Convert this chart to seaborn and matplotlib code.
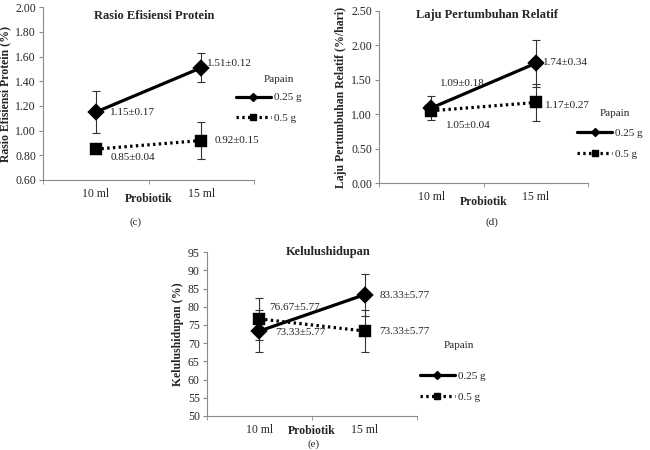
import matplotlib.pyplot as plt
import seaborn as sns
import pandas as pd
from matplotlib.lines import Line2D

# data
probiotik = ["10 ml", "15 ml"]
papain = ["0.25 g", "0.5 g"]

rep_025 = [1.15, 1.51]
rep_025_sd = [0.17, 0.12]
rep_05 = [0.85, 0.92]
rep_05_sd = [0.04, 0.15]

lpr_025 = [1.09, 1.74]
lpr_025_sd = [0.18, 0.34]
lpr_05 = [1.05, 1.17]
lpr_05_sd = [0.04, 0.27]

sr_025 = [73.33, 83.33]
sr_025_sd = [5.77, 5.77]
sr_05 = [76.67, 73.33]
sr_05_sd = [5.77, 5.77]

sns.set_style("ticks")
plt.rcParams['font.family'] = ['Liberation Serif', 'DejaVu Serif']
plt.rcParams['axes.unicode_minus'] = False

fig = plt.figure(figsize=(6.5, 4.5), dpi=100)
spine_col = "#8a8a8a"
dots = (0, (0.75, 1.05))


def panel(rect, a, a_sd, b, b_sd, ylim, yticks, yfmt, title, title_xy, ylabel,
          xlabel_y, lab_pos, leg_anchor, papain_xy, caption, cap_xy):
    ax = fig.add_axes(rect)
    df = pd.DataFrame({
        "Probiotik": probiotik * 2,
        "Papain": [papain[0]] * 2 + [papain[1]] * 2,
        "val": a + b,
    })
    sns.pointplot(data=df, x="Probiotik", y="val", hue="Papain",
                  markers=["D", "s"], linestyles=["-", dots],
                  palette=["black", "black"], errorbar=None,
                  markersize=7, linewidth=2.3, legend=False, ax=ax)
    for m, s in ((a, a_sd), (b, b_sd)):
        ax.errorbar([0, 1], m, yerr=s, fmt="none", ecolor="#333333",
                    elinewidth=0.8, capsize=3, capthick=0.8, zorder=1)
    ax.set_xlim(-0.5, 1.5)
    ax.set_ylim(*ylim)
    ax.set_yticks(yticks)
    ax.set_yticklabels([yfmt.format(t) for t in yticks], fontsize=8.5)
    ax.set_xticks([0, 1])
    ax.set_xticklabels(probiotik, fontsize=8.5)
    ax.set_xticks([-0.5, 0.5, 1.5], minor=True)
    ax.tick_params(axis="x", which="major", length=0, pad=6)
    ax.tick_params(axis="x", which="minor", length=3, color=spine_col)
    ax.tick_params(axis="y", length=3, color=spine_col, pad=2)
    for sp in ("top", "right"):
        ax.spines[sp].set_visible(False)
    for sp in ("left", "bottom"):
        ax.spines[sp].set_color(spine_col)
        ax.spines[sp].set_linewidth(0.8)
    ax.set_xlabel("Probiotik", fontsize=8.5, fontweight="bold")
    ax.xaxis.set_label_coords(0.5, xlabel_y)
    ax.xaxis.label.set_va("center")
    ax.set_ylabel(ylabel, fontsize=8.5, fontweight="bold", labelpad=3)
    ax.text(title_xy[0], title_xy[1], title, transform=ax.transAxes,
            fontsize=9, fontweight="bold", ha="center", va="center")

    vals = [(a[0], a_sd[0]), (a[1], a_sd[1]), (b[0], b_sd[0]), (b[1], b_sd[1])]
    for (v, s), (x, y) in zip(vals, lab_pos):
        ax.text(x, y, f"{v:.2f}±{s:.2f}", fontsize=8, color="#222222",
                va="center", ha="left")

    handles = [
        Line2D([], [], color="black", lw=2.3, ls="-", marker="D", markersize=4),
        Line2D([], [], color="black", lw=2.3, ls=dots, marker="s", markersize=5),
    ]
    ax.legend(handles, papain, loc="center left",
              bbox_to_anchor=leg_anchor, bbox_transform=fig.transFigure,
              frameon=False, fontsize=8, handlelength=3.2,
              handletextpad=0.25, labelspacing=1.0)
    fig.text(papain_xy[0], papain_xy[1], "Papain", fontsize=8,
             ha="left", va="center")
    fig.text(cap_xy[0], cap_xy[1], caption, fontsize=8, ha="center", va="center")
    return ax


panel([0.066, 0.60, 0.325, 0.384], rep_025, rep_025_sd, rep_05, rep_05_sd,
      (0.6, 2.0), [0.6 + 0.2 * i for i in range(8)], "{:.2f}",
      "Rasio Efisiensi Protein", (0.526, 0.948), "Rasio Efisiensi Protein (%)",
      -0.11,
      [(0.135, 1.15), (1.054, 1.54), (0.145, 0.786), (1.13, 0.916)],
      (0.347, 0.76), (0.405, 0.824), "(c)", (0.208, 0.507))

panel([0.583, 0.593, 0.322, 0.383], lpr_025, lpr_025_sd, lpr_05, lpr_05_sd,
      (0.0, 2.5), [0.5 * i for i in range(6)], "{:.2f}",
      "Laju Pertumbuhan Relatif", (0.517, 0.977),
      "Laju Pertumbuhan Relatif (%/hari)", -0.11,
      [(0.084, 1.45), (1.069, 1.744), (0.141, 0.83), (1.089, 1.12)],
      (0.872, 0.681), (0.923, 0.747), "(d)", (0.757, 0.507))

panel([0.318, 0.0756, 0.324, 0.364], sr_025, sr_025_sd, sr_05, sr_05_sd,
      (50, 95), list(range(50, 96, 5)), "{:.0f}",
      "Kelulushidupan", (0.576, 1.0), "Kelulushidupan (%)", -0.092,
      [(0.148, 73.0), (1.138, 83.2), (0.09, 79.9), (1.138, 73.3)],
      (0.630, 0.141), (0.682, 0.233), "(e)", (0.482, 0.014))

fig.savefig("out.png", dpi=100)
